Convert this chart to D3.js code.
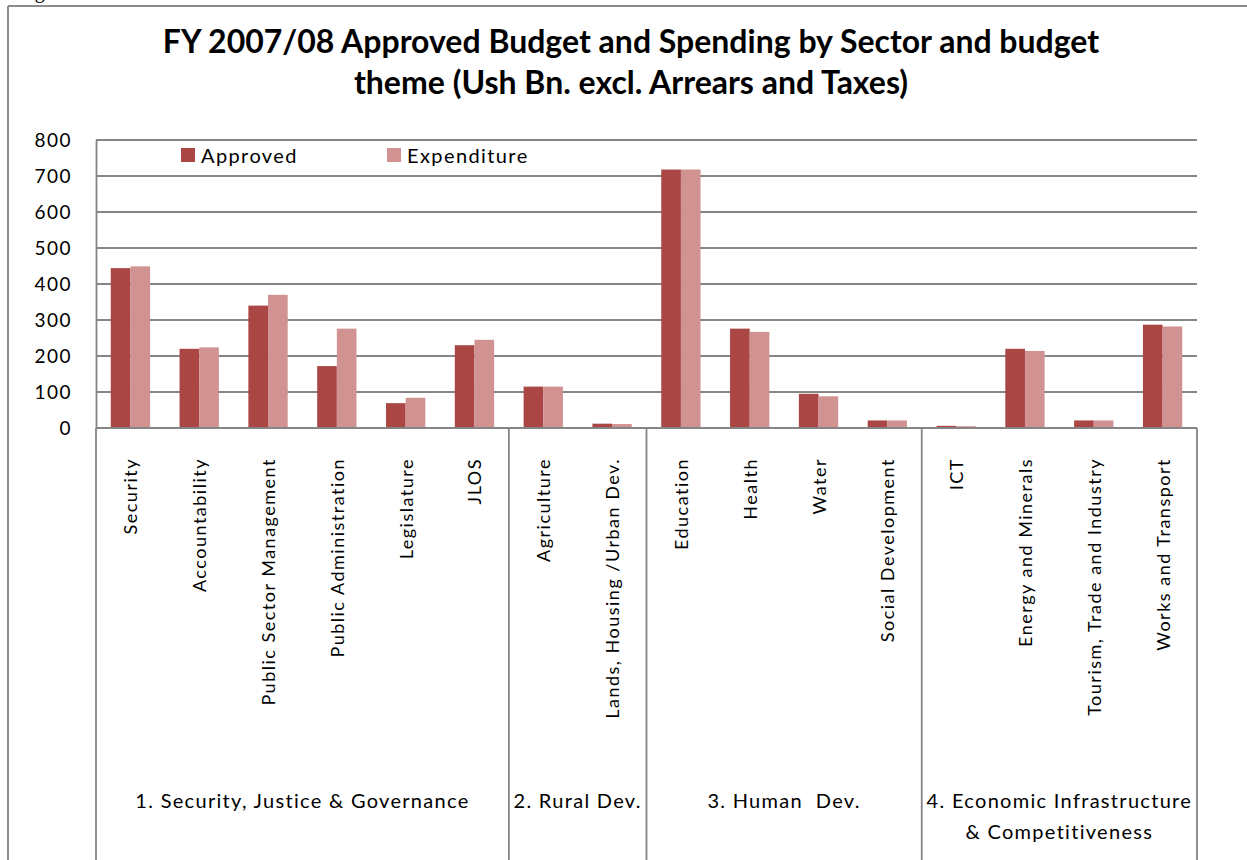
<!DOCTYPE html>
<html>
<head>
<meta charset="utf-8">
<script src="https://cdn.jsdelivr.net/npm/d3@7"></script>
<style>
  html, body { margin: 0; padding: 0; background: #fff; }
  svg { display: block; }
  text { font-family: Lato, "Open Sans", sans-serif; fill: #000; }
</style>
</head>
<body>
<svg id="chart" width="1247" height="860"></svg>
<script>
// Sectors (lower axis level) and the budget theme each belongs to
const categories = [
  "Security", "Accountability", "Public Sector Management", "Public Administration",
  "Legislature", "JLOS",
  "Agriculture", "Lands, Housing /Urban Dev.",
  "Education", "Health", "Water", "Social Development",
  "ICT", "Energy and Minerals", "Tourism, Trade and Industry", "Works and Transport"
];
const themes = [
  ["1. Security, Justice & Governance"],
  ["2. Rural Dev."],
  ["3. Human  Dev."],
  ["4. Economic Infrastructure", "& Competitiveness"]
];
const themeSizes = [6, 2, 4, 4];

// Ush Bn., excluding arrears and taxes
const approved    = [444, 220, 340, 172, 69, 230, 115, 12, 718, 276, 95, 21, 6, 220, 21, 287];
const expenditure = [449, 224, 370, 276, 84, 245, 115, 11, 718, 267, 88, 21, 5, 214, 21, 282];

const seriesNames = ["Approved", "Expenditure"];
const yTicks = [0, 100, 200, 300, 400, 500, 600, 700, 800];

const colors = { Approved: "#AA4644", Expenditure: "#D19392" };
const gridColor = "#858585";

const svg = d3.select("#chart");

// caption line above the chart frame (only its descenders fall inside the page)
svg.append("text")
  .attr("x", 18).attr("y", -2)
  .style("font-family", "'Liberation Serif', serif")
  .style("font-size", "20px")
  .text("Figure");

// chart frame
svg.append("line").attr("x1", 8).attr("x2", 1247).attr("y1", 6).attr("y2", 6)
  .attr("stroke", "#8c8c8c").attr("stroke-width", 2);
svg.append("line").attr("x1", 8).attr("x2", 8).attr("y1", 6).attr("y2", 860)
  .attr("stroke", "#8c8c8c").attr("stroke-width", 2);

// title
const title = svg.append("text")
  .attr("text-anchor", "middle")
  .style("font-weight", "bold")
  .style("font-size", "32px");
title.append("tspan").attr("x", 631).attr("y", 53)
  .text("FY 2007/08 Approved Budget and Spending by Sector and budget");
title.append("tspan").attr("x", 631).attr("y", 94)
  .text("theme (Ush Bn. excl. Arrears and Taxes)");

const plotL = 96, plotR = 1197, plotT = 140, plotB = 428;

const x = d3.scaleBand().domain(categories).range([plotL, plotR]).paddingInner(0).paddingOuter(0);
const barW = x.bandwidth() / 3.5;
const xs = d3.scaleBand().domain(seriesNames).range([0, 2 * barW]);
const y = d3.scaleLinear().domain([0, 800]).range([plotB, plotT]);

// horizontal gridlines
svg.append("g")
  .selectAll("line").data(yTicks.filter(d => d > 0)).join("line")
  .attr("x1", plotL).attr("x2", plotR)
  .attr("y1", d => y(d)).attr("y2", d => y(d))
  .attr("stroke", gridColor).attr("stroke-width", 1.8);

// y axis
const yAxis = svg.append("g")
  .attr("transform", `translate(${plotL},0)`)
  .call(d3.axisLeft(y).tickValues(yTicks).tickSize(0).tickPadding(24).tickFormat(d3.format("d")));
yAxis.select(".domain").attr("stroke", gridColor).attr("stroke-width", 1.8);
yAxis.selectAll("text")
  .style("font-family", "Lato, sans-serif")
  .style("font-size", "19px")
  .style("letter-spacing", "1.5px")
  .attr("fill", "#000")
  .attr("dy", "0.36em");

// bars
const rows = categories.map((c, i) => ({ c, Approved: approved[i], Expenditure: expenditure[i] }));
svg.append("g")
  .selectAll("g").data(rows).join("g")
  .attr("transform", d => `translate(${x(d.c) + (x.bandwidth() - 2 * barW) / 2},0)`)
  .selectAll("rect").data(d => seriesNames.map(s => ({ s, v: d[s] }))).join("rect")
  .attr("x", d => xs(d.s))
  .attr("width", xs.bandwidth())
  .attr("y", d => y(d.v))
  .attr("height", d => plotB - y(d.v))
  .attr("fill", d => colors[d.s]);

// category axis baseline
svg.append("line").attr("x1", plotL).attr("x2", plotR).attr("y1", plotB).attr("y2", plotB)
  .attr("stroke", gridColor).attr("stroke-width", 1.8);

// theme separators running down through both label levels
let acc = 0;
const bounds = [0];
themeSizes.forEach(n => { acc += n; bounds.push(acc); });
const boundX = i => (i < categories.length ? x(categories[i]) : plotR);
svg.append("g")
  .selectAll("line").data(bounds).join("line")
  .attr("x1", d => boundX(d)).attr("x2", d => boundX(d))
  .attr("y1", plotB).attr("y2", 860)
  .attr("stroke", gridColor).attr("stroke-width", 1.8);

// sector labels, rotated
svg.append("g")
  .selectAll("text").data(categories).join("text")
  .attr("transform", d => `translate(${x(d) + x.bandwidth() / 2 + 7},458) rotate(-90)`)
  .attr("text-anchor", "end")
  .style("font-size", "18px")
  .style("letter-spacing", "1.5px")
  .style("white-space", "pre")
  .text(d => d);

// theme labels
svg.append("g")
  .selectAll("text").data(themes).join("text")
  .attr("text-anchor", "middle")
  .style("font-size", "20px")
  .style("letter-spacing", "1.3px")
  .style("white-space", "pre")
  .each(function (lines, i) {
    const cx = (boundX(bounds[i]) + boundX(bounds[i + 1])) / 2;
    d3.select(this).selectAll("tspan").data(lines).join("tspan")
      .attr("x", cx)
      .attr("y", (d, j) => 808 + j * 31)
      .text(d => d);
  });

// legend
const legend = svg.append("g");
const legendX = [181, 387];
seriesNames.forEach((s, i) => {
  legend.append("rect").attr("x", legendX[i]).attr("y", 148).attr("width", 14).attr("height", 14)
    .attr("fill", colors[s]);
  legend.append("text").attr("x", legendX[i] + 20).attr("y", 163)
    .style("font-size", "20px").style("letter-spacing", "1.4px")
    .text(s);
});
</script>
</body>
</html>
